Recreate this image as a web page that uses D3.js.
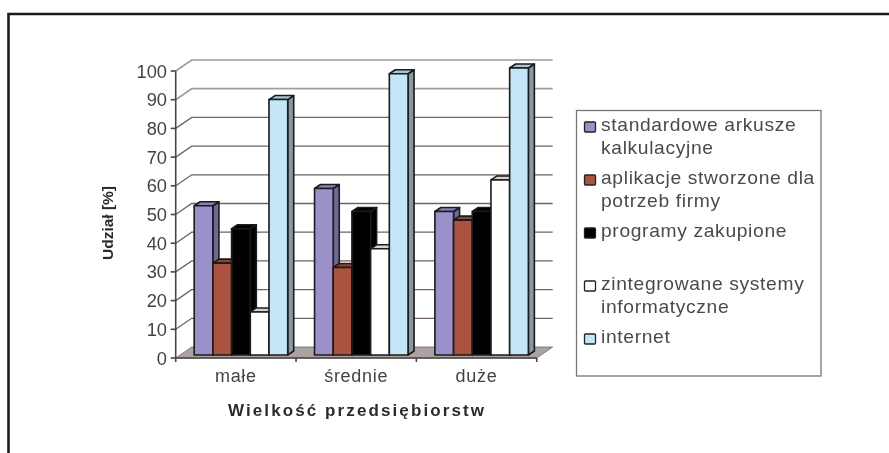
<!DOCTYPE html>
<html><head><meta charset="utf-8">
<script src="https://cdn.jsdelivr.net/npm/d3@7/dist/d3.min.js"></script>
<style>html,body{margin:0;padding:0;background:#fff}svg{display:block}text{font-family:"Liberation Sans",Arial,sans-serif}</style>
</head><body><svg id="c" width="889" height="453"></svg>
<script>
const categories = ["małe","średnie","duże"];
const seriesNames = [["standardowe arkusze","kalkulacyjne"],["aplikacje stworzone dla","potrzeb firmy"],["programy zakupione"],["zintegrowane systemy","informatyczne"],["internet"]];
const standardowe = [52,58,50];
const aplikacje = [32,30.5,47];
const programy = [44,50,50];
const zintegrowane = [15,37,61];
const internet = [89,98,100];
const seriesValues = [standardowe,aplikacje,programy,zintegrowane,internet];
const colors = ["#9b90c8","#a9523f","#000000","#ffffff","#c5e6f7"];
const sideColors = ["#6f6796","#6f3528","#000000","#bdb7b4","#87989f"];
const topColors = ["#8a80b8","#8c4433","#000000","#d8d2cf","#a9c6d4"];
const yTicks = d3.range(0,101,10);

const svg = d3.select("#c");
const defs = svg.append("defs");
defs.append("filter").attr("id","soft").attr("filterUnits","userSpaceOnUse").attr("x",0).attr("y",0).attr("width",889).attr("height",453)
  .append("feGaussianBlur").attr("stdDeviation",0.55);
const root = svg.append("g").attr("filter","url(#soft)");

// outer frame
svg.append("path").attr("d","M8.5 453V14H889").attr("fill","none").attr("stroke","#1c1c1c").attr("stroke-width",2.6);

const x = d3.scaleBand().domain(categories).range([175.7,536.7]);
const y = d3.scaleLinear().domain([0,100]).range([358,71]);
const wallDx = 16, wallDy = -11;
const barDx = 6, barDy = -4;
const plot = root.append("g");

// floor
plot.append("path").attr("d",`M${x.range()[0]} ${y(0)}H${x.range()[1]}l${wallDx} ${wallDy}H${x.range()[0]+wallDx}Z`)
  .attr("fill","#aaa3a2").attr("stroke","#6f6765").attr("stroke-width",0.8);

// gridlines
yTicks.slice(1).forEach(t=>{
  plot.append("path").attr("d",`M${x.range()[0]} ${y(t)}l${wallDx} ${wallDy}H${x.range()[1]+wallDx}`)
    .attr("fill","none").attr("stroke",t>=90?"#a89c98":"#6f6461").attr("stroke-width",t>=90?1.7:1.3);
});

// bars
const barW = 18.7, barStart = 18.5;
seriesValues.forEach((vals,s)=>{
  const g = plot.append("g");
  vals.forEach((v,i)=>{
    const bx = x(categories[i]) + barStart + s*barW;
    const by = y(v)-3, b0 = y(0)-3;
    const st = {stroke:"#1a1a1a","stroke-width":1.6,"stroke-linejoin":"round"};
    const side = g.append("path").attr("d",`M${bx+barW} ${by}l${barDx} ${barDy}V${b0+barDy}l${-barDx} ${-barDy}Z`).attr("fill",sideColors[s]);
    const top = g.append("path").attr("d",`M${bx} ${by}l${barDx} ${barDy}h${barW}l${-barDx} ${-barDy}Z`).attr("fill",topColors[s]);
    const fr = g.append("rect").attr("x",bx).attr("y",by).attr("width",barW).attr("height",b0-by).attr("fill",colors[s]);
    [side,top,fr].forEach(e=>Object.entries(st).forEach(([k,val])=>e.attr(k,val)));
  });
});

// axes
const ax = plot.append("g").attr("stroke","#4a4543").attr("stroke-width",1.6);
ax.append("line").attr("x1",x.range()[0]).attr("x2",x.range()[0]).attr("y1",y(100)).attr("y2",y(0));
ax.append("line").attr("x1",x.range()[0]).attr("x2",x.range()[1]).attr("y1",y(0)).attr("y2",y(0));
yTicks.forEach(t=>ax.append("line").attr("x1",x.range()[0]-5).attr("x2",x.range()[0]).attr("y1",y(t)).attr("y2",y(t)));
[...categories.map(c=>x(c)),x.range()[1]].forEach(p=>ax.append("line").attr("x1",p).attr("x2",p).attr("y1",y(0)).attr("y2",y(0)+4));

const labelFill="#464343";
root.append("g").selectAll("text").data(yTicks).join("text")
  .attr("x",167).attr("y",t=>y(t)).attr("dy","0.36em").attr("text-anchor","end")
  .attr("font-size",18.3).attr("fill",labelFill).text(t=>t);
root.append("g").selectAll("text").data(categories).join("text")
  .attr("x",c=>x(c)+x.bandwidth()/2).attr("y",382).attr("text-anchor","middle")
  .attr("font-size",18).attr("letter-spacing",0.7).attr("fill",labelFill).text(c=>c);
root.append("text").attr("x",357).attr("y",415.5).attr("text-anchor","middle")
  .attr("font-size",17).attr("font-weight","bold").attr("letter-spacing",2.1).attr("fill","#2c2c2c").text("Wielkość przedsiębiorstw");
root.append("text").attr("transform","translate(113,223) rotate(-90)").attr("text-anchor","middle")
  .attr("font-size",15.5).attr("font-weight","bold").attr("fill","#2c2c2c").text("Udział [%]");

// legend
const lg = root.append("g");
lg.append("rect").attr("x",576.5).attr("y",110.5).attr("width",244.5).attr("height",265.5).attr("fill","#fff").attr("stroke","#777").attr("stroke-width",1.3);
const legendY = [126,179,232,285,338];
seriesNames.forEach((lines,s)=>{
  lg.append("rect").attr("x",584.5).attr("y",legendY[s]-4).attr("width",11).attr("height",10).attr("rx",1)
    .attr("fill",colors[s]).attr("stroke","#222").attr("stroke-width",1.3);
  lines.forEach((t,j)=>lg.append("text").attr("transform",`translate(601,${legendY[s]+5+j*22.5}) scale(1.1,1)`)
    .attr("font-size",17.5).attr("letter-spacing",0.6).attr("fill","#4c4a4a").text(t));
});
</script></body></html>
